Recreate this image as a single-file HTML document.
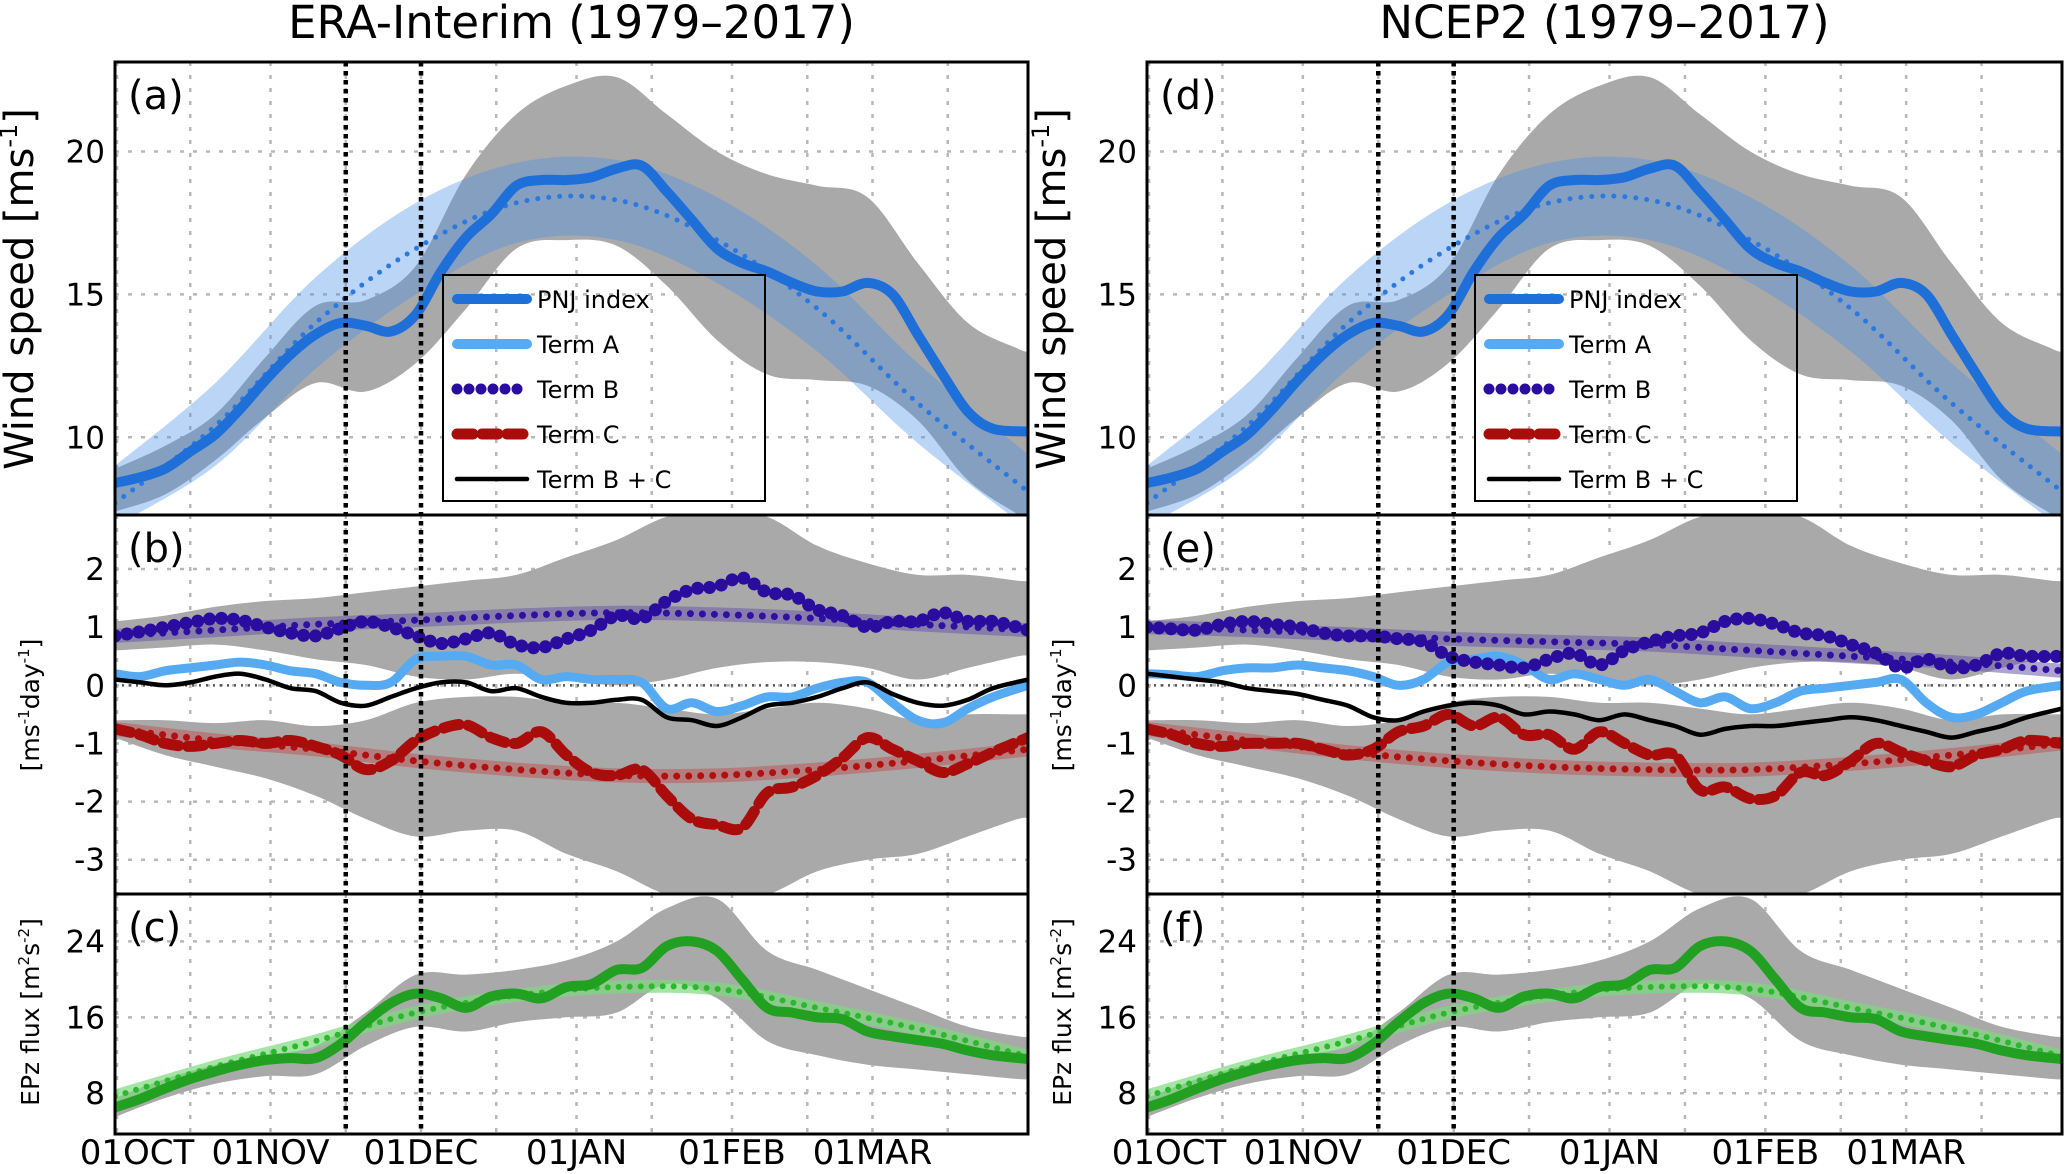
<!DOCTYPE html>
<html><head><meta charset="utf-8"><style>
html,body{margin:0;padding:0;background:#fff}
svg{display:block;font-family:"DejaVu Sans","Liberation Sans",sans-serif}
</style></head><body>
<svg id="fig" width="2067" height="1174" viewBox="0 0 2067 1174" xmlns="http://www.w3.org/2000/svg"></svg>
<script>
const days5=[0,5,10,15,20,25,30,35,40,45,50,55,60,65,70,75,80,85,90,95,100,105,110,115,120,125,130,135,140,145,150,155,160,165,170,175,182];
const days10=[0,10,20,30,40,50,60,70,80,90,100,110,120,130,140,150,160,170,180,182];
const climDays=[0,20,40,60,80,100,120,140,160,182];
const pnj=[8.4,8.6,8.9,9.5,10.1,11.0,12.0,12.9,13.6,14.0,13.9,13.7,14.3,15.8,17.0,17.8,18.8,19.0,19.0,19.1,19.4,19.5,18.6,17.6,16.6,16.1,15.8,15.4,15.1,15.1,15.4,15.0,13.6,12.2,10.9,10.3,10.2];
const pnjClim=[7.7,10.4,14.0,16.6,18.2,18.3,16.9,14.5,11.2,8.1];
const pnjClimHi=[9.0,11.9,15.6,18.2,19.6,19.7,18.4,16.0,12.6,9.4];
const pnjClimLo=[6.9,9.0,12.4,15.0,16.8,16.9,15.4,13.0,9.8,6.8];
const greyAHi=[8.9,9.7,10.8,12.8,14.6,14.8,16.0,19.2,21.3,22.3,22.6,21.3,20.0,19.2,18.8,18.4,16.1,14.0,13.1,13.0];
const greyALo=[7.4,8.0,9.2,10.7,11.9,11.6,12.6,14.5,16.6,16.9,16.7,15.3,13.4,12.2,12.0,11.8,10.6,8.5,7.3,7.1];
const termB=[.85,.92,1.0,1.08,1.15,1.12,1.0,.9,.85,.98,1.1,1.0,.85,.72,.8,.9,.7,.65,.8,.95,1.2,1.15,1.45,1.65,1.7,1.85,1.6,1.55,1.3,1.2,1.0,1.1,1.1,1.25,1.1,1.1,.95];
const termC=[-.75,-.85,-1.0,-1.05,-1.0,-.95,-1.0,-.95,-1.05,-1.2,-1.45,-1.3,-.95,-.75,-.68,-.9,-1.0,-.8,-1.2,-1.5,-1.55,-1.45,-1.9,-2.3,-2.4,-2.45,-1.85,-1.75,-1.55,-1.25,-.9,-1.1,-1.3,-1.5,-1.35,-1.15,-.9];
const termA=[.2,.15,.25,.3,.35,.4,.35,.25,.2,.05,0,.05,.45,.5,.5,.35,.35,.1,.15,.1,.1,.05,-.4,-.3,-.45,-.35,-.2,-.2,-.05,.05,.05,-.3,-.6,-.65,-.4,-.2,0];
const termBC=[.1,.05,0,.05,.15,.2,.1,-.05,-.1,-.3,-.35,-.2,-.05,.05,.05,-.1,-.05,-.2,-.3,-.3,-.25,-.25,-.55,-.6,-.7,-.55,-.35,-.3,-.2,-.05,.05,-.15,-.3,-.35,-.25,-.05,.1];
const bClim=[.85,.95,1.05,1.12,1.2,1.25,1.22,1.15,1.05,.95];
const cClim=[-.75,-.95,-1.1,-1.3,-1.45,-1.55,-1.55,-1.45,-1.3,-1.1];
const termBe=[1.0,.97,.95,1.05,1.1,1.05,1.0,.9,.85,.85,.8,.75,.5,.4,.35,.3,.45,.55,.35,.6,.75,.85,.9,1.1,1.15,1.05,.9,.85,.7,.55,.3,.45,.3,.35,.55,.5,.5];
const termCe=[-.75,-.85,-1.0,-1.05,-1.0,-1.0,-1.0,-1.1,-1.2,-1.1,-.8,-.7,-.5,-.7,-.55,-.85,-.85,-1.1,-.8,-1.0,-1.2,-1.2,-1.8,-1.75,-1.95,-1.9,-1.5,-1.55,-1.3,-1.0,-1.15,-1.3,-1.4,-1.2,-1.1,-.95,-1.0];
const termAe=[.2,.18,.15,.25,.3,.3,.35,.3,.25,.15,0,.1,.4,.45,.5,.35,.1,.2,.1,0,.1,-.1,-.3,-.2,-.4,-.3,-.1,-.05,0,.05,.1,-.3,-.55,-.5,-.3,-.1,0];
const termBCe=[.2,.15,.1,.05,-.05,-.1,-.15,-.25,-.35,-.55,-.6,-.45,-.35,-.3,-.35,-.5,-.45,-.5,-.6,-.5,-.6,-.7,-.85,-.75,-.7,-.7,-.65,-.6,-.55,-.6,-.7,-.8,-.9,-.8,-.7,-.55,-.4];
const bClimE=[1.0,.95,.88,.8,.75,.7,.6,.5,.4,.25];
const cClimE=[-.75,-.95,-1.15,-1.3,-1.4,-1.45,-1.45,-1.35,-1.2,-1.0];
const upHi=[1.1,1.2,1.35,1.45,1.5,1.6,1.7,1.8,1.9,2.2,2.5,2.9,3.0,2.9,2.4,2.1,1.9,1.9,1.8,1.8];
const upLo=[0.6,0.65,0.7,0.6,0.45,0.35,0.15,0.1,0.2,0.1,0,0.1,0.3,0.4,0.4,0.3,0.1,0.3,0.5,0.5];
const lwHi=[-0.6,-0.6,-0.65,-0.6,-0.7,-0.6,-0.3,-0.2,-0.2,-0.3,-0.3,-0.4,-0.5,-0.4,-0.3,-0.4,-0.6,-0.5,-0.5,-0.5];
const lwLo=[-0.9,-1.2,-1.4,-1.6,-1.9,-2.3,-2.6,-2.5,-2.5,-2.9,-3.2,-3.6,-3.7,-3.6,-3.2,-3.0,-2.9,-2.6,-2.3,-2.3];
const epz=[6.5,7.4,8.5,9.5,10.3,11.0,11.5,11.7,11.7,13.2,15.5,17.5,18.5,18.0,17.0,18.2,18.5,18.0,19.2,19.5,21,21.2,23.5,24.0,23.0,20.0,17.0,16.5,16.0,15.8,14.5,14.0,13.6,13.2,12.5,12.0,11.6];
const epzClim=[7.7,10.8,13.5,16.5,18.3,19.2,19.0,17.0,14.8,11.9];
const greyCHi=[7.5,9.5,11,12,13,16.5,20.5,20.5,21,22,24,27.5,28.5,23,21,19,17,15,14,14];
const greyCLo=[5.5,7.5,9,9.8,10,13,15,14.5,15.5,16,16.5,19.5,18,13.5,12,11,10.5,10,9.5,9.5];
const gridDays=[15,31,46,61,76,92,107,123,138,151,166];
const monthDays=[0,31,61,92,123,151];
const monthLabels=["01OCT","01NOV","01DEC","01JAN","01FEB","01MAR"];
const ticksA=[10,15,20], ticksB=[-3,-2,-1,0,1,2], ticksC=[8,16,24];

const NS="http://www.w3.org/2000/svg";
const svg=document.getElementById('fig');
function mk(tag,attrs,parent){const e=document.createElementNS(NS,tag);for(const k in attrs)e.setAttribute(k,attrs[k]);(parent||svg).appendChild(e);return e;}
function smooth(p){let d="M"+p[0][0].toFixed(1)+","+p[0][1].toFixed(1);for(let i=0;i<p.length-1;i++){const p0=p[i-1]||p[i],p1=p[i],p2=p[i+1],p3=p[i+2]||p2;d+=" C"+(p1[0]+(p2[0]-p0[0])/6).toFixed(1)+","+(p1[1]+(p2[1]-p0[1])/6).toFixed(1)+" "+(p2[0]-(p3[0]-p1[0])/6).toFixed(1)+","+(p2[1]-(p3[1]-p1[1])/6).toFixed(1)+" "+p2[0].toFixed(1)+","+p2[1].toFixed(1);}return d;}

const Y={a:[62,515,7.28,23.13],b:[515,894,-3.59,2.93],c:[894,1134,3.7,29.0]};
function panel(L,R,key,letter){
  const [top,bot,lo,hi]=Y[key];
  const g=mk('g',{});
  
  
  const cid='clip'+letter;
  const cp=mk('clipPath',{id:cid},g);mk('rect',{x:L,y:top,width:R-L,height:bot-top},cp);
  const X=d=>L+(R-L)*d/182;
  const Yv=v=>bot-(v-lo)/(hi-lo)*(bot-top);
  const inner=mk('g',{'clip-path':'url(#'+cid+')'},g);
  return {g,inner,X,Y:Yv,top,bot,L,R};
}
function band(P,days,hiA,loA,fill,op,name){
  const pts=days.map((d,i)=>[P.X(d),P.Y(hiA[i])]);const pl=days.map((d,i)=>[P.X(d),P.Y(loA[i])]).reverse();
  const e=mk('path',{d:smooth(pts)+" L"+smooth(pl).slice(1)+" Z",fill:fill,'fill-opacity':op},P.inner);
  
  
}
function line(P,days,vals,attrs,name){
  const e=mk('path',Object.assign({d:smooth(days.map((d,i)=>[P.X(d),P.Y(vals[i])])),fill:'none','stroke-linecap':'round','stroke-linejoin':'round'},attrs),P.inner);
  
  
}
function grid(P,ticks){
  gridDays.forEach(d=>{mk('line',{x1:P.X(d),x2:P.X(d),y1:P.top,y2:P.bot,stroke:'#b8b8b8','stroke-width':2.5,'stroke-dasharray':'4 9'},P.inner);});
  mk('line',{x1:P.L+2,x2:P.L+2,y1:P.top,y2:P.bot,stroke:'#b8b8b8','stroke-width':2.5,'stroke-dasharray':'4 9'},P.inner);
  ticks.forEach(t=>{mk('line',{x1:P.L,x2:P.R,y1:P.Y(t),y2:P.Y(t),stroke:'#b8b8b8','stroke-width':2.5,'stroke-dasharray':'4 9'},P.inner);});
}
function yTicks(P,ticks){
  ticks.forEach(t=>{const e=mk('text',{x:P.L-10,y:P.Y(t)+11,'text-anchor':'end','font-size':31},P.g);e.textContent=(t<0?'-'+(-t):''+t);
  
  });
}
function frame(P){mk('rect',{x:P.L,y:P.top,width:P.R-P.L,height:P.bot-P.top,fill:'none',stroke:'#000','stroke-width':3},P.g);}
function letterText(P,t){const e=mk('text',{x:P.L+13,y:P.top+47,'font-size':40},P.g);e.textContent=t;
  
  }

function build(L,R,side){
  const e=side==='right';
  const A=panel(L,R,'a',e?'d':'a');
  grid(A,ticksA);
  band(A,days10,greyAHi,greyALo,'#a9a9a9',1,'pnj-spread-band');
  band(A,climDays,pnjClimHi,pnjClimLo,'#4a90e8',0.38,'pnj-climatology-band');
  line(A,climDays,pnjClim,{stroke:'#2a78e0','stroke-width':5,'stroke-dasharray':'0 11'},'pnj-climatology-line');
  line(A,days5,pnj,{stroke:'#1f6fd9','stroke-width':10},'pnj-index-line');
  frame(A);yTicks(A,ticksA);letterText(A,e?'(d)':'(a)');

  const B=panel(L,R,'b',e?'e':'b');
  grid(B,ticksB);
  band(B,days10,upHi,upLo,'#a9a9a9',1,'term-b-spread-band');
  band(B,days10,lwHi,lwLo,'#a9a9a9',1,'term-c-spread-band');
  mk('line',{x1:L,x2:R,y1:B.Y(0),y2:B.Y(0),stroke:'#555','stroke-width':2.5,'stroke-dasharray':'2 5'},B.inner);
  const bc=e?bClimE:bClim, cc=e?cClimE:cClim;
  line(B,climDays,bc,{stroke:'#6a5aa8','stroke-width':14,'stroke-opacity':0.55},'term-b-climatology-band');
  line(B,climDays,bc,{stroke:'#3010a0','stroke-width':7,'stroke-dasharray':'0 12'},'term-b-climatology-line');
  line(B,climDays,cc,{stroke:'#c05050','stroke-width':14,'stroke-opacity':0.5},'term-c-climatology-band');
  line(B,climDays,cc,{stroke:'#b01010','stroke-width':7,'stroke-dasharray':'0 12'},'term-c-climatology-line');
  line(B,days5,e?termAe:termA,{stroke:'#55aaf2','stroke-width':9},'term-a-line');
  line(B,days5,e?termBCe:termBC,{stroke:'#000','stroke-width':4.5},'term-bc-line');
  line(B,days5,e?termCe:termC,{stroke:'#aa0c0c','stroke-width':11,'stroke-dasharray':'16 9'},'term-c-line');
  line(B,days5,e?termBe:termB,{stroke:'#2a0c9e','stroke-width':13,'stroke-dasharray':'0 12'},'term-b-line');
  frame(B);yTicks(B,ticksB);letterText(B,e?'(e)':'(b)');

  const C=panel(L,R,'c',e?'f':'c');
  grid(C,ticksC);
  band(C,days10,greyCHi,greyCLo,'#a9a9a9',1,'epz-spread-band');
  line(C,climDays,epzClim,{stroke:'#7ed87e','stroke-width':13,'stroke-opacity':0.7},'epz-climatology-band');
  line(C,climDays,epzClim,{stroke:'#2cb82c','stroke-width':6,'stroke-dasharray':'0 11'},'epz-climatology-line');
  line(C,days5,epz,{stroke:'#22a022','stroke-width':10},'epz-flux-line');
  frame(C);yTicks(C,ticksC);letterText(C,e?'(f)':'(c)');

  [46,61].forEach(d=>{const v=mk('line',{x1:A.X(d),x2:A.X(d),y1:62,y2:1134,stroke:'#000','stroke-width':4.5,'stroke-dasharray':'4.5 4.5'});
    
    });

  monthDays.forEach((d,i)=>{const t=mk('text',{x:A.X(d)+(i===0?22:0),y:1164,'text-anchor':'middle','font-size':34});t.textContent=monthLabels[i];
    
    });

  const yl=[["Wind speed [ms",40,289,L-82],["[ms",25,705,L-76],["EPz flux [m",25,1012,L-76]];
  const sup=[["-1","]"],["-1","day","-1","]"],["2","s","-2","]"]];
  yl.forEach((o,i)=>{const t=mk('text',{x:0,y:0,'font-size':o[1],'text-anchor':'middle',transform:'translate('+(o[3])+','+o[2]+') rotate(-90)'});
    
    
    t.appendChild(document.createTextNode(o[0]));
    sup[i].forEach(s=>{const ts=mk('tspan',{},t);if(/\d/.test(s)){ts.setAttribute('font-size',o[1]*0.6);ts.setAttribute('dy',-o[1]*0.4);}else{ts.setAttribute('dy',o[1]*0.4);}ts.textContent=s;});
  });

  const tt=mk('text',{x:(L+R)/2,y:38,'text-anchor':'middle','font-size':45});tt.textContent=e?'NCEP2 (1979–2017)':'ERA-Interim (1979–2017)';
  
  

  const lx=L+328, ly=275;
  const lg=mk('g',{});
  
  
  mk('rect',{x:lx,y:ly,width:322,height:226,fill:'none',stroke:'#000','stroke-width':2},lg);
  const ent=[["PNJ index",{stroke:'#1f6fd9','stroke-width':10}],["Term A",{stroke:'#55aaf2','stroke-width':10}],["Term B",{stroke:'#2a0c9e','stroke-width':11,'stroke-dasharray':'0 12'}],["Term C",{stroke:'#aa0c0c','stroke-width':11,'stroke-dasharray':'16 9'}],["Term B + C",{stroke:'#000','stroke-width':4.5}]];
  ent.forEach((en,i)=>{const y=ly+24+i*45;
    const it=mk('g',{},lg);
    
    
    mk('line',Object.assign({x1:lx+14,x2:lx+84,y1:y,y2:y,'stroke-linecap':'round'},en[1]),it);
    const t=mk('text',{x:lx+94,y:y+9,'font-size':24},it);t.textContent=en[0];});
}
build(115,1028,'left');
build(1147,2062,'right');
</script>
</body></html>
